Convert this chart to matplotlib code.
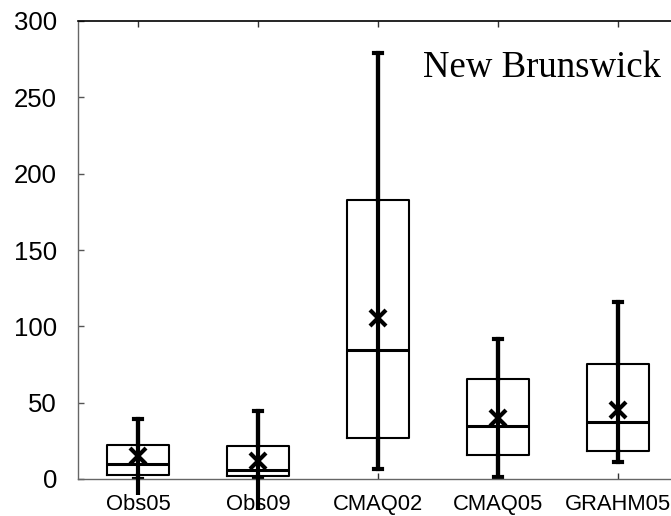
import numpy as np
import matplotlib
matplotlib.use("Agg")
import matplotlib.pyplot as plt

# box statistics
labels = ["Obs05", "Obs09", "CMAQ02", "CMAQ05", "GRAHM05"]
whis_hi = [39.5, 44.3, 278.9, 91.9, 115.9]
q3 = [22.5, 21.8, 182.6, 65.2, 75.3]
median = [9.8, 5.7, 84.4, 34.7, 37.3]
q1 = [2.4, 1.7, 26.8, 15.5, 18.1]
whis_lo = [-10.5, -20.0, 6.3, 1.3, 11.3]
means = [14.8, 11.6, 105.4, 39.9, 45.4]
yticks = [0, 50, 100, 150, 200, 250, 300]

fig = plt.figure(figsize=(6.71, 5.16), dpi=100)
ax = fig.add_axes([78 / 671, 37 / 516, 600 / 671, 458 / 516])

pos = np.arange(len(labels))
stats = []
for i, lab in enumerate(labels):
    stats.append(dict(label=lab, med=median[i], q1=q1[i], q3=q3[i],
                      whislo=max(whis_lo[i], 0), whishi=whis_hi[i],
                      mean=means[i]))

ax.bxp(stats, positions=pos, widths=0.52, capwidths=0.06, showmeans=True,
       showfliers=False,
       boxprops=dict(color="black", linewidth=1.5),
       medianprops=dict(color="black", linewidth=2.2),
       whiskerprops=dict(color="black", linewidth=3.0),
       capprops=dict(color="black", linewidth=3.0),
       meanprops=dict(marker="x", markersize=12, markeredgewidth=3,
                      markeredgecolor="black", zorder=5))

# the whisker line runs straight through the box, and below zero for Obs
ax.vlines(pos, whis_lo, whis_hi, color="black", linewidth=3.0,
          clip_on=False, zorder=4)

ax.set_xlim(-0.5, len(labels) - 0.5)
ax.set_ylim(0, 300)
ax.set_yticks(yticks)
ax.set_xticks(pos)
ax.set_xticklabels(labels, family="Liberation Sans", fontsize=15.8)
ax.set_yticklabels([str(v) for v in yticks], family="Liberation Sans",
                   fontsize=18.5)

ax.tick_params(axis="y", direction="in", length=4, width=1, pad=15,
               color="#555555")
ax.tick_params(axis="x", direction="in", length=4, width=1, pad=11,
               top=True, color="#333333")
for s in ["left", "bottom"]:
    ax.spines[s].set_color("#666666")
    ax.spines[s].set_linewidth(1.0)
ax.spines["top"].set_linewidth(1.2)
ax.spines["right"].set_visible(False)

ax.text(2.375, 263, "New Brunswick", family="Liberation Serif", fontsize=26.5,
        ha="left", va="baseline")

fig.savefig("out.png", dpi=100)
